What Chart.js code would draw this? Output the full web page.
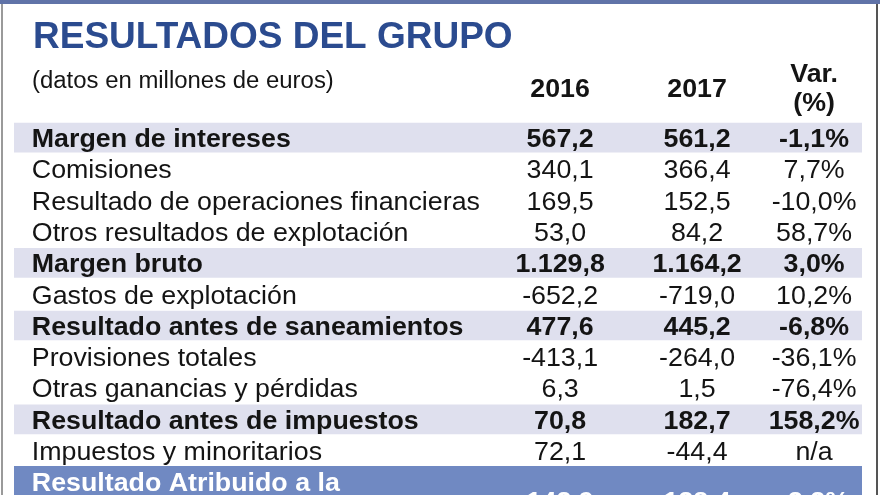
<!DOCTYPE html>
<html>
<head>
<meta charset="utf-8">
<script src="https://cdn.jsdelivr.net/npm/chart.js@4.4.1/dist/chart.umd.min.js"></script>
<style>
  html, body { margin: 0; padding: 0; background: #ffffff; overflow: hidden; }
  canvas { display: block; }
</style>
</head>
<body>
<canvas id="tabla" width="880" height="532"></canvas>
<script>
// datos en millones de euros
const rowNames = [
    'Margen de intereses',
    'Comisiones',
    'Resultado de operaciones financieras',
    'Otros resultados de explotación',
    'Margen bruto',
    'Gastos de explotación',
    'Resultado antes de saneamientos',
    'Provisiones totales',
    'Otras ganancias y pérdidas',
    'Resultado antes de impuestos',
    'Impuestos y minoritarios',
    'Resultado Atribuido a la\nsociedad dominante'
];
const rowKind = ['sub', 'item', 'item', 'item', 'sub', 'item', 'sub', 'item', 'item', 'sub', 'item', 'total'];
const values2016 = ['567,2', '340,1', '169,5', '53,0', '1.129,8', '-652,2', '477,6', '-413,1', '6,3', '70,8', '72,1', '142,9'];
const values2017 = ['561,2', '366,4', '152,5', '84,2', '1.164,2', '-719,0', '445,2', '-264,0', '1,5', '182,7', '-44,4', '138,4'];
const variation = ['-1,1%', '7,7%', '-10,0%', '58,7%', '3,0%', '10,2%', '-6,8%', '-36,1%', '-76,4%', '158,2%', 'n/a', '-3,2%'];
const columnHeads = ['2016', '2017', 'Var.\n(%)'];

const titleText = 'RESULTADOS DEL GRUPO';
const unitsText = '(datos en millones de euros)';

const FONT = '"Liberation Sans", Arial, Helvetica, sans-serif';
const titleColor = '#2b4b8f';
const bandColor = '#dfe0ee';
const totalColor = '#7089c2';
const textColor = '#141414';

// x positions on the 0..100 scale
const colLabel = 2.1;
const colPos = [64.4, 80.55, 94.35];

// each row takes one slot, the two-line total takes two
const slots = [];
const slotRow = [];
rowNames.forEach((name, i) => {
    const lines = name.split('\n');
    lines.forEach(line => { slots.push(line); slotRow.push(i); });
});

const subBands = slots.map((s, k) => rowKind[slotRow[k]] === 'sub' ? [0, 100] : null);
const totalBands = slots.map((s, k) => rowKind[slotRow[k]] === 'total' ? [0, 100] : null);

function drawText(ctx, text, x, y, align, size, bold, color, sx) {
    ctx.save();
    ctx.font = (bold ? 'bold ' : '') + size + 'px ' + FONT;
    ctx.fillStyle = color;
    ctx.textBaseline = 'alphabetic';
    ctx.textAlign = 'left';
    const w = ctx.measureText(text).width * sx;
    let left = x;
    if (align === 'center') left = x - w / 2;
    if (align === 'right') left = x - w;
    ctx.translate(left, y + size * 0.36);
    ctx.scale(sx, 1);
    ctx.fillText(text, 0, 0);
    ctx.restore();
}

const framePlugin = {
    id: 'frame',
    beforeDraw(chart) {
        const {ctx, width, height} = chart;
        ctx.save();
        ctx.fillStyle = '#ffffff';
        ctx.fillRect(0, 0, width, height);
        ctx.fillStyle = '#6073a8';
        ctx.fillRect(0, 0, width, 4);
        ctx.fillStyle = '#9a9a9a';
        ctx.fillRect(1, 4, 2, height);
        ctx.fillStyle = '#555555';
        ctx.fillRect(876, 4, 2, height);
        ctx.restore();
    }
};

const tablePlugin = {
    id: 'tableText',
    afterDatasetsDraw(chart) {
        const {ctx} = chart;
        const x = chart.scales.x;
        const y = chart.scales.y;
        const sx = 1.03;

        drawText(ctx, titleText, 33, 35, 'left', 37, true, titleColor, 1.0);
        drawText(ctx, unitsText, 32, 80, 'left', 23, false, textColor, 1.04);

        columnHeads.forEach((head, c) => {
            const lines = head.split('\n');
            const cx = x.getPixelForValue(colPos[c]);
            if (lines.length === 1) {
                drawText(ctx, lines[0], cx, 88, 'center', 26, true, textColor, sx);
            } else {
                drawText(ctx, lines[0], cx, 73, 'center', 26, true, textColor, sx);
                drawText(ctx, lines[1], cx, 102, 'center', 26, true, textColor, sx);
            }
        });

        rowNames.forEach((name, i) => {
            const first = slotRow.indexOf(i);
            const last = slotRow.lastIndexOf(i);
            const bold = rowKind[i] !== 'item';
            const color = rowKind[i] === 'total' ? '#ffffff' : textColor;
            const lines = name.split('\n');
            lines.forEach((line, j) => {
                drawText(ctx, line, x.getPixelForValue(colLabel), y.getPixelForValue(first + j), 'left', 26, bold, color, sx);
            });
            let cy = (y.getPixelForValue(first) + y.getPixelForValue(last)) / 2;
            if (last > first) cy += 3;
            [values2016[i], values2017[i], variation[i]].forEach((v, c) => {
                drawText(ctx, v, x.getPixelForValue(colPos[c]), cy, 'center', 26, bold, color, sx);
            });
        });
    }
};

new Chart(document.getElementById('tabla').getContext('2d'), {
    type: 'bar',
    data: {
        labels: slots,
        datasets: [
            {
                data: subBands,
                backgroundColor: bandColor,
                grouped: false,
                barPercentage: 0.95,
                categoryPercentage: 1
            },
            {
                data: totalBands,
                backgroundColor: totalColor,
                grouped: false,
                barPercentage: 1,
                categoryPercentage: 1
            }
        ]
    },
    options: {
        indexAxis: 'y',
        responsive: false,
        animation: false,
        layout: {
            padding: { top: 122, bottom: 3, left: 14, right: 18 }
        },
        plugins: {
            legend: { display: false },
            tooltip: { enabled: false },
            title: { display: false }
        },
        scales: {
            x: { type: 'linear', min: 0, max: 100, display: false },
            y: { type: 'category', display: false }
        }
    },
    plugins: [framePlugin, tablePlugin]
});
</script>
</body>
</html>
